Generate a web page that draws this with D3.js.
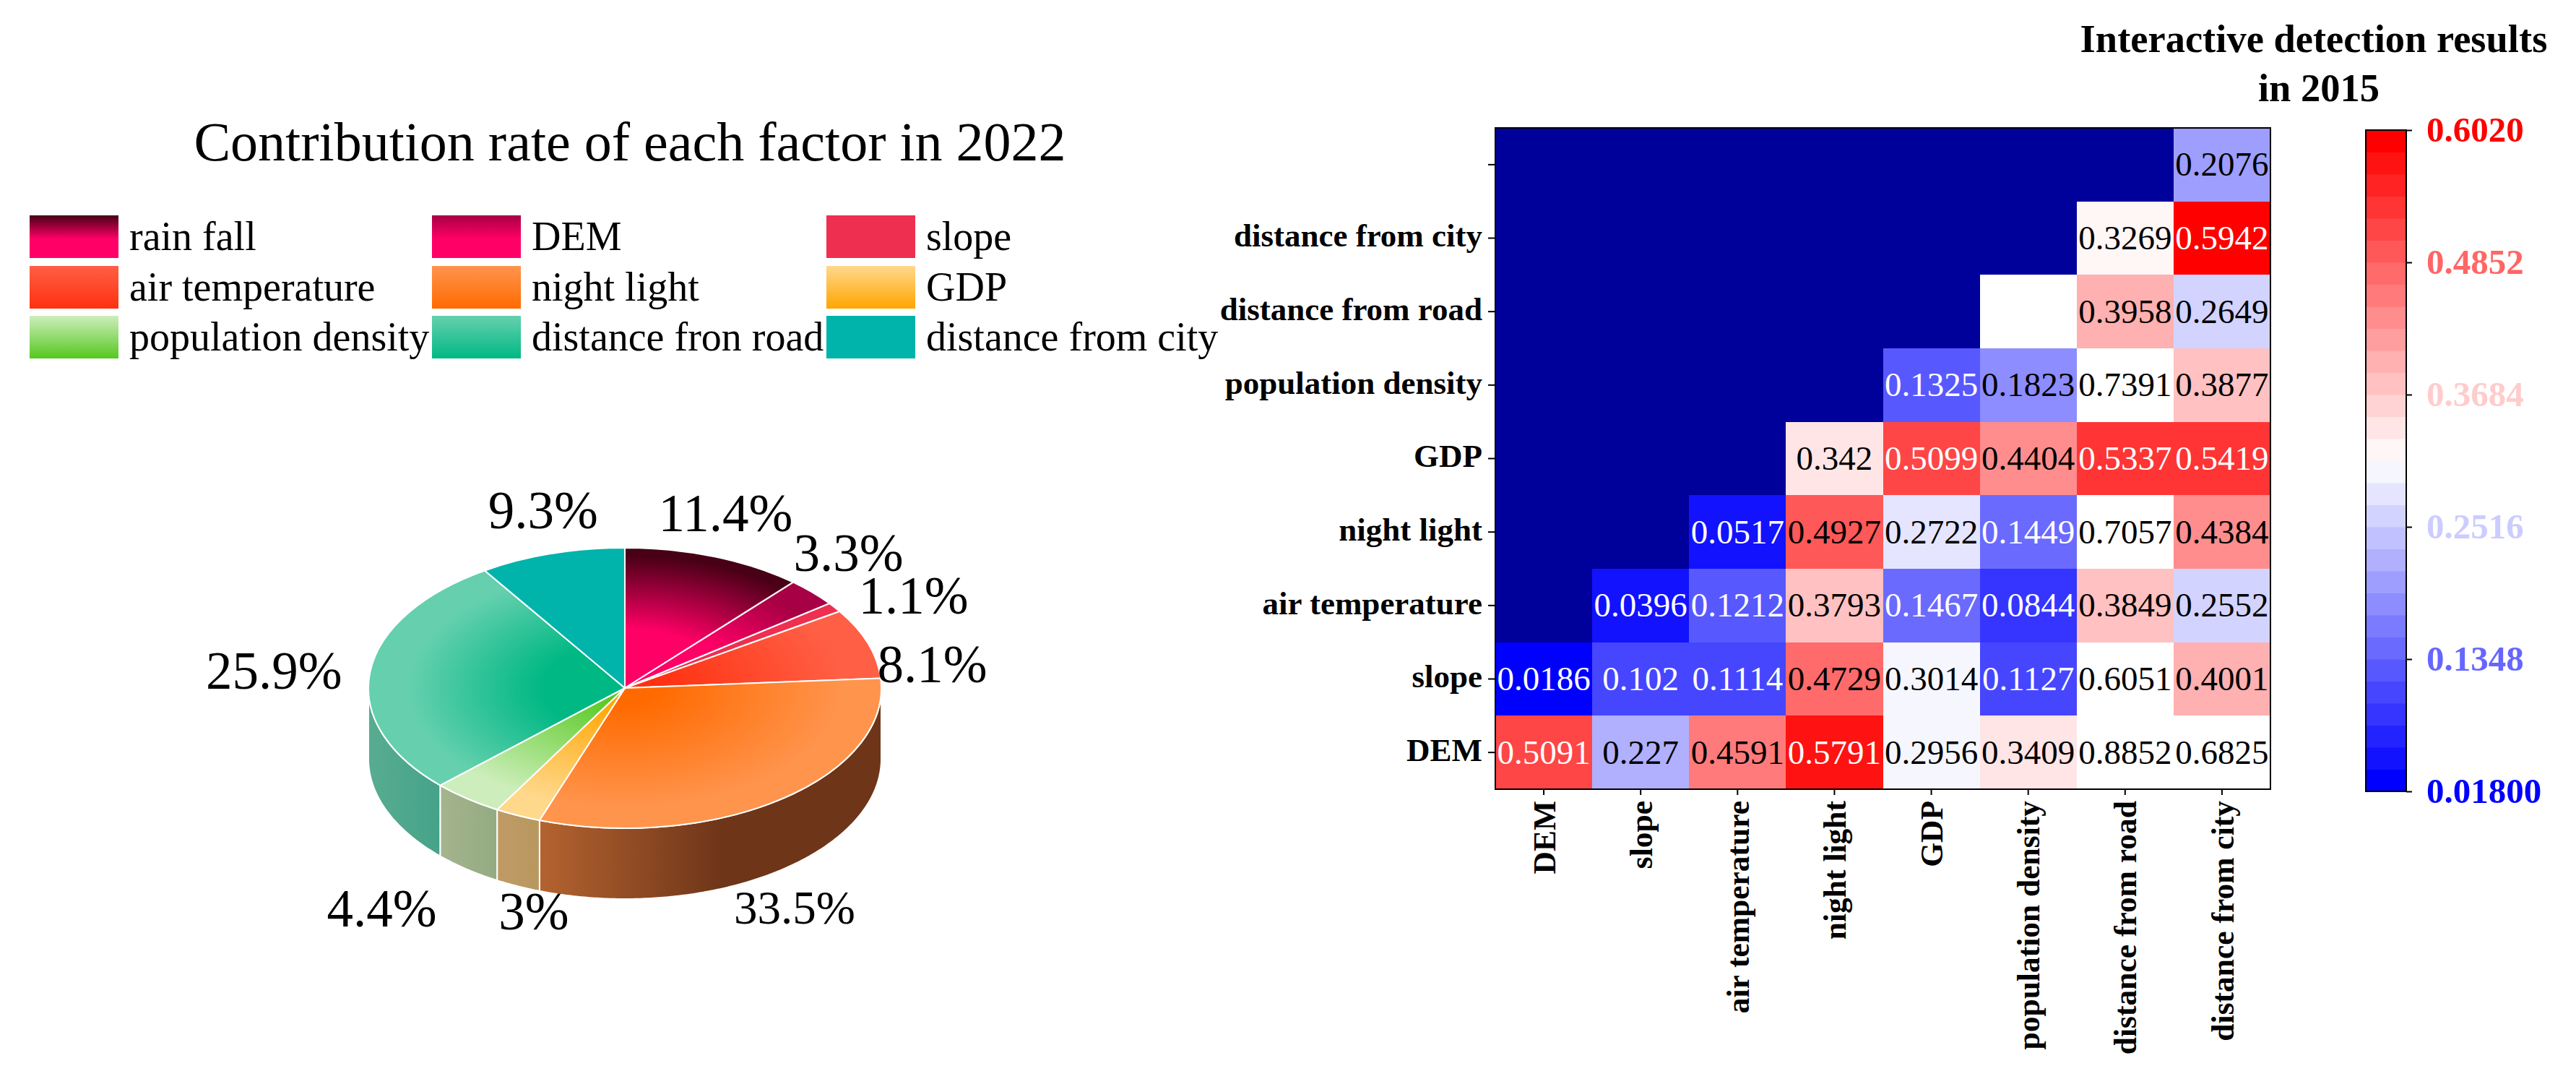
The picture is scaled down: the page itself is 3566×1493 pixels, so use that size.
<!DOCTYPE html>
<html>
<head>
<meta charset="utf-8">
<script src="https://cdn.jsdelivr.net/npm/d3@7"></script>
<style>
  html, body { margin: 0; padding: 0; background: #fff; }
  svg { display: block; }
  text { font-family: "Liberation Serif", serif; fill: #000; }
  .tick text { font-weight: bold; }
</style>
</head>
<body>
<div id="chart"></div>
<script>
// pie data
var factors = ['rain fall', 'DEM', 'slope', 'air temperature', 'night light', 'GDP',
  'population density', 'distance from road', 'distance from city'];
var legendNames = ['rain fall', 'DEM', 'slope', 'air temperature', 'night light', 'GDP',
  'population density', 'distance fron road', 'distance from city'];
// printed labels
var shares = [11.4, 3.3, 1.1, 8.1, 33.5, 3, 4.4, 25.9, 9.3];
// the wedges as measured in the picture, they differ a bit from the printed numbers
var wedgeShares = [11.4, 3.3, 1.1, 8.1, 31.5, 2.9, 4.5, 28, 9.2];
var outerColors = ['#470016', '#a80044', '#ee2f50', '#ff5f45', '#ff944d', '#ffd88c', '#cdeebc', '#66d0ae', '#00b3ab'];
var innerColors = ['#ff0066', '#ff0066', '#ee2f50', '#ff3010', '#ff6a00', '#ffa500', '#55c81e', '#00b884', '#00b3ab'];
var innerStops = [0.42, 0.45, 0, 0.12, 0.12, 0.1, 0.08, 0.32, 0];
var sideLeftColors = ['#000', '#000', '#000', '#000', '#b4632f', '#c09a66', '#a5b48e', '#58ac90', '#000'];
var sideRightColors = ['#000', '#000', '#000', '#000', '#6e3519', '#b8985f', '#93ab82', '#45a389', '#000'];

// heatmap data
var columns = ['DEM', 'slope', 'air temperature', 'night light', 'GDP', 'population density',
  'distance from road', 'distance from city'];
var rows = ['', 'distance from city', 'distance from road', 'population density', 'GDP',
  'night light', 'air temperature', 'slope', 'DEM'];
// null = masked cell, '' = white cell with no number
var matrix = [
  [null, null, null, null, null, null, null, 0.2076],
  [null, null, null, null, null, null, 0.3269, 0.5942],
  [null, null, null, null, null, '', 0.3958, 0.2649],
  [null, null, null, null, 0.1325, 0.1823, 0.7391, 0.3877],
  [null, null, null, 0.342, 0.5099, 0.4404, 0.5337, 0.5419],
  [null, null, 0.0517, 0.4927, 0.2722, 0.1449, 0.7057, 0.4384],
  [null, 0.0396, 0.1212, 0.3793, 0.1467, 0.0844, 0.3849, 0.2552],
  [0.0186, 0.102, 0.1114, 0.4729, 0.3014, 0.1127, 0.6051, 0.4001],
  [0.5091, 0.227, 0.4591, 0.5791, 0.2956, 0.3409, 0.8852, 0.6825]
];
var colorTicks = [0.018, 0.1348, 0.2516, 0.3684, 0.4852, 0.602];
var colorTickLabels = ['0.01800', '0.1348', '0.2516', '0.3684', '0.4852', '0.6020'];
var colorMin = 0.018;
var colorMax = 0.602;
var levelCount = 30;

var svgWidth = 3566;
var svgHeight = 1493;

var svg = d3.select('#chart').append('svg')
  .attr('width', svgWidth)
  .attr('height', svgHeight);
var defs = svg.append('defs');

// titles
svg.append('text')
  .attr('x', 872).attr('y', 222)
  .attr('text-anchor', 'middle')
  .attr('font-size', 76)
  .text('Contribution rate of each factor in 2022');

var heatTitle = svg.append('text')
  .attr('text-anchor', 'middle')
  .attr('font-size', 54.5)
  .attr('font-weight', 'bold');
heatTitle.append('tspan').attr('x', 3203).attr('y', 72).text('Interactive detection results');
heatTitle.append('tspan').attr('x', 3210).attr('y', 140).text('in 2015');

// legend
var legendCols = [41, 598, 1144];
var legendRows = [298, 368, 437];
var swatchW = 123;
var swatchH = 59;

factors.forEach(function(name, i) {
  var grad = defs.append('linearGradient')
    .attr('id', 'legend' + i)
    .attr('x1', 0).attr('y1', 0).attr('x2', 0).attr('y2', 1);
  grad.append('stop').attr('offset', 0).attr('stop-color', outerColors[i]);
  grad.append('stop').attr('offset', innerStops[i] > 0.4 ? 0.55 : 1).attr('stop-color', innerColors[i]);

  var x = legendCols[i % 3];
  var y = legendRows[Math.floor(i / 3)];
  svg.append('rect')
    .attr('x', x).attr('y', y)
    .attr('width', swatchW).attr('height', swatchH)
    .attr('fill', 'url(#legend' + i + ')');
  svg.append('text')
    .attr('x', x + swatchW + 15).attr('y', y + 48)
    .attr('font-size', 56)
    .text(legendNames[i]);
});

// 3d pie
var cx = 865, cy = 952, rx = 355, ry = 194, depth = 98;
var pieData = d3.pie().sort(null)(wedgeShares);
var pieGroup = svg.append('g');

function ellipsePoint(angle, drop) {
  return [cx + rx * Math.sin(angle), cy - ry * Math.cos(angle) + drop];
}

var sideLine = d3.line();
pieData.forEach(function(d, i) {
  var start = Math.max(d.startAngle, Math.PI / 2);
  var end = Math.min(d.endAngle, Math.PI * 1.5);
  if (end <= start) return;

  var grad = defs.append('linearGradient')
    .attr('id', 'side' + i)
    .attr('gradientUnits', 'userSpaceOnUse')
    .attr('x1', cx + rx * Math.sin(end)).attr('y1', 0)
    .attr('x2', i === 4 ? 1000 : cx + rx * Math.sin(start)).attr('y2', 0);
  // the long orange wall goes dark about half way along, so it ends at a fixed x
  grad.append('stop').attr('offset', 0).attr('stop-color', sideLeftColors[i]);
  grad.append('stop').attr('offset', 1).attr('stop-color', sideRightColors[i]);

  var angles = d3.range(start, end, 0.01).concat([end]);
  var pts = angles.map(a => ellipsePoint(a, 0))
    .concat(angles.slice().reverse().map(a => ellipsePoint(a, depth)));
  pieGroup.append('path')
    .attr('d', sideLine(pts) + 'Z')
    .attr('fill', 'url(#side' + i + ')')
    .attr('stroke', '#fff')
    .attr('stroke-width', 2);
});

var arc = d3.arc().innerRadius(0).outerRadius(rx);
var topGroup = pieGroup.append('g')
  .attr('transform', `translate(${cx}, ${cy}) scale(1, ${ry / rx})`);

pieData.forEach(function(d, i) {
  var grad = defs.append('radialGradient')
    .attr('id', 'slice' + i)
    .attr('gradientUnits', 'userSpaceOnUse')
    .attr('cx', 0).attr('cy', 0).attr('r', rx);
  grad.append('stop').attr('offset', innerStops[i]).attr('stop-color', innerColors[i]);
  grad.append('stop').attr('offset', i === 0 ? 0.95 : 0.85).attr('stop-color', outerColors[i]);

  topGroup.append('path')
    .attr('d', arc(d))
    .attr('fill', 'url(#slice' + i + ')')
    .attr('stroke', '#fff')
    .attr('stroke-width', 2)
    .attr('vector-effect', 'non-scaling-stroke');
});

// pie labels, moved off the rim by hand like in the original
var labelShift = [[15, -35], [50, -30], [109, 9], [89, 54], [20, 172], [22, 158], [-118, 177], [-133, 23], [-12, -35]];
var labelSize = [73, 73, 73, 73, 65, 73, 73, 73, 73];
pieData.forEach(function(d, i) {
  var p = ellipsePoint((d.startAngle + d.endAngle) / 2, 0);
  svg.append('text')
    .attr('x', p[0] + labelShift[i][0])
    .attr('y', p[1] + labelShift[i][1])
    .attr('text-anchor', 'middle')
    .attr('font-size', labelSize[i])
    .text(shares[i] + '%');
});

// heatmap
var heat = { left: 2070, right: 3143, top: 177, bottom: 1092 };
var xBand = d3.scaleBand().domain(columns).range([heat.left, heat.right]);
var yBand = d3.scaleBand().domain(rows).range([heat.top, heat.bottom]);

var bwr = d3.scaleLinear().domain([0, 0.5, 1]).range(['#0000ff', '#ffffff', '#ff0000']);
var levels = d3.range(levelCount).map(i => bwr(i / (levelCount - 1)));
var levelScale = d3.scaleQuantize().domain([colorMin, colorMax]).range(levels);

function cellColor(v) {
  if (v === null) return '#00009b';
  if (v === '' || v > colorMax) return '#ffffff';
  return levelScale(v);
}

function textColor(v) {
  return (v < 0.15 || (v > 0.5 && v <= colorMax)) ? '#ffffff' : '#000000';
}

var cells = [];
matrix.forEach(function(row, r) {
  row.forEach(function(v, c) {
    cells.push({ row: rows[r], col: columns[c], value: v });
  });
});

svg.append('g').attr('shape-rendering', 'crispEdges').selectAll('rect')
  .data(cells)
  .enter()
  .append('rect')
  .attr('x', d => xBand(d.col))
  .attr('y', d => yBand(d.row))
  .attr('width', xBand.bandwidth() + 0.5)
  .attr('height', yBand.bandwidth() + 0.5)
  .attr('fill', d => cellColor(d.value));

svg.append('g').selectAll('text')
  .data(cells.filter(d => d.value !== null && d.value !== ''))
  .enter()
  .append('text')
  .attr('x', d => xBand(d.col) + xBand.bandwidth() / 2)
  .attr('y', d => yBand(d.row) + yBand.bandwidth() / 2)
  .attr('dy', '0.33em')
  .attr('text-anchor', 'middle')
  .attr('font-size', 47)
  .style('fill', d => textColor(d.value))
  .text(d => d.value);

svg.append('rect')
  .attr('x', heat.left).attr('y', heat.top)
  .attr('width', heat.right - heat.left).attr('height', heat.bottom - heat.top)
  .attr('fill', 'none').attr('stroke', '#000').attr('stroke-width', 2);

var leftAxis = d3.axisLeft(yBand).tickSize(10).tickPadding(8);
var yAxis = svg.append('g')
  .attr('transform', `translate(${heat.left}, 0)`)
  .call(leftAxis);
yAxis.select('.domain').remove();
yAxis.selectAll('.tick line').attr('stroke-width', 2);
yAxis.selectAll('.tick text').attr('font-size', 45).attr('font-family', null).attr('dy', '0.26em');

var bottomAxis = d3.axisBottom(xBand).tickSize(8);
var xAxis = svg.append('g')
  .attr('transform', `translate(0, ${heat.bottom})`)
  .call(bottomAxis);
xAxis.select('.domain').remove();
xAxis.selectAll('.tick line').attr('stroke-width', 2);
xAxis.selectAll('.tick text')
  .attr('font-size', 43.5)
  .attr('font-family', null)
  .attr('text-anchor', 'end')
  .attr('transform', 'rotate(-90)')
  .attr('x', -16)
  .attr('y', 0)
  .attr('dy', '0.36em');

// colorbar
var bar = { left: 3275, right: 3331, top: 180, bottom: 1095 };
var barScale = d3.scaleLinear().domain([colorMin, colorMax]).range([bar.bottom, bar.top]);
var levelBand = (colorMax - colorMin) / levelCount;

svg.append('g').selectAll('rect')
  .data(levels)
  .enter()
  .append('rect')
  .attr('x', bar.left)
  .attr('y', (d, i) => barScale(colorMin + (i + 1) * levelBand))
  .attr('width', bar.right - bar.left)
  .attr('height', barScale(colorMin) - barScale(colorMin + levelBand) + 0.5)
  .attr('fill', d => d);

svg.append('rect')
  .attr('x', bar.left).attr('y', bar.top)
  .attr('width', bar.right - bar.left).attr('height', bar.bottom - bar.top)
  .attr('fill', 'none').attr('stroke', '#000').attr('stroke-width', 2);

var barAxis = d3.axisRight(barScale)
  .tickValues(colorTicks)
  .tickFormat((d, i) => colorTickLabels[i])
  .tickSize(8)
  .tickPadding(20);
var barG = svg.append('g')
  .attr('transform', `translate(${bar.right}, 0)`)
  .call(barAxis);
barG.select('.domain').remove();
barG.selectAll('.tick line').attr('stroke-width', 2);
barG.selectAll('.tick text')
  .attr('font-size', 49)
  .attr('font-family', null)
  .style('fill', d => bwr((d - colorMin) / (colorMax - colorMin)));
</script>
</body>
</html>
